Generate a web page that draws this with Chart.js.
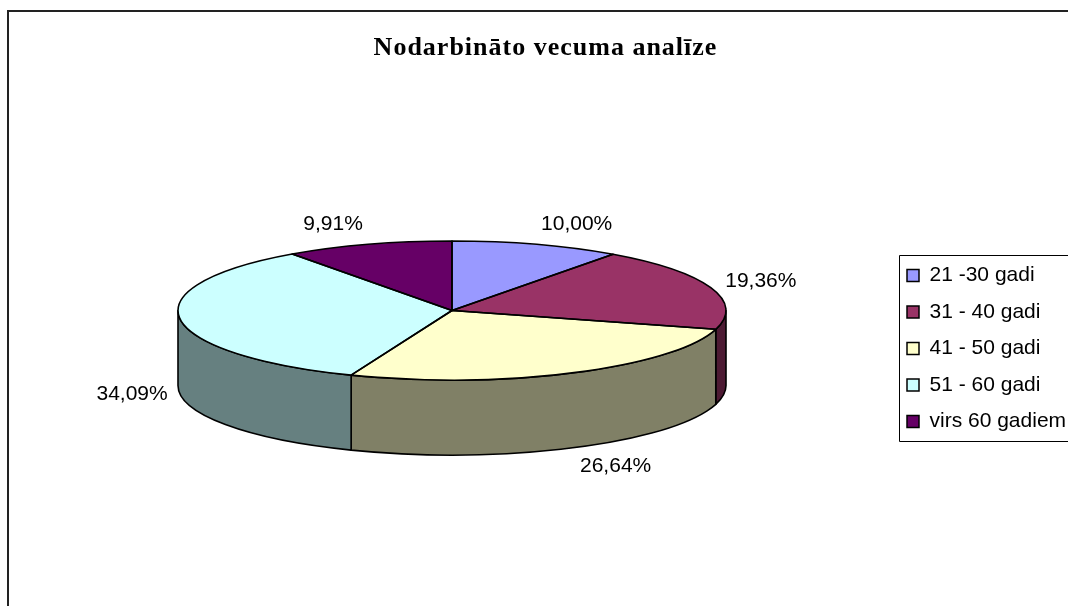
<!DOCTYPE html>
<html>
<head>
<meta charset="utf-8">
<style>html,body{margin:0;padding:0;background:#fff;overflow:hidden}canvas{display:block}</style>
<script src="https://cdn.jsdelivr.net/npm/chart.js@4"></script>
</head>
<body>
<canvas id="c" width="1068" height="606"></canvas>
<script>
const chartTitle = "Nodarbināto vecuma analīze";
const categories = ["21 -30 gadi", "31 - 40 gadi", "41 - 50 gadi", "51 - 60 gadi", "virs 60 gadiem"];
const shares = [10.00, 19.36, 26.64, 34.09, 9.91];
const sliceColors = ["#9999FF", "#993366", "#FFFFCC", "#CCFFFF", "#660066"];

const pieBox = {cx: 452, cy: 310.5, rx: 274, ry: 69.5, depth: 75};
const labelAnchor = [
  {dx: 40, dy: -20, wall: false}, {dx: 50, dy: -6, wall: false},
  {dx: 42, dy: 18, wall: true}, {dx: -48, dy: 0, wall: true}, {dx: -35, dy: -20, wall: false}
];
const frame = {x: 8, y: 11};
const legendFrame = {x: 899.5, y: 255.5, bottom: 441.5};
const legendSpot = {left: 907, firstRow: 277.5};
const legendFontSize = 21, legendRowStep = 36.5;

function halfTone(hex) {
  const n = parseInt(hex.slice(1), 16);
  const f = v => Math.round(v / 2);
  return `rgb(${f(n >> 16 & 255)},${f(n >> 8 & 255)},${f(n & 255)})`;
}

const pie3d = {
  id: "pie3d",
  beforeDraw(chart) {
    const ctx = chart.ctx;
    ctx.save();
    ctx.strokeStyle = "#222";
    ctx.lineWidth = 2;
    ctx.beginPath();
    ctx.moveTo(frame.x, chart.height);
    ctx.lineTo(frame.x, frame.y);
    ctx.lineTo(chart.width, frame.y);
    ctx.stroke();
    ctx.lineWidth = 1;
    ctx.strokeStyle = "#000";
    ctx.beginPath();
    ctx.moveTo(chart.width, legendFrame.y);
    ctx.lineTo(legendFrame.x, legendFrame.y);
    ctx.lineTo(legendFrame.x, legendFrame.bottom);
    ctx.lineTo(chart.width, legendFrame.bottom);
    ctx.stroke();
    ctx.restore();
  },
  afterLayout(chart) {
    const lg = chart.legend, pad = lg.options.labels.padding;
    const w = lg.width, h = lg.height;
    lg.left = legendSpot.left - pad;
    lg.right = lg.left + w;
    lg.top = legendSpot.firstRow - pad - legendFontSize * 0.6;
    lg.bottom = lg.top + h;
    const tb = chart.titleBlock;
    if (!tb._spaced) {
      const drawTitle = tb.draw;
      tb.draw = function () {
        const ctx = this.ctx;
        ctx.letterSpacing = "1px";
        drawTitle.call(this);
        ctx.letterSpacing = "0px";
      };
      tb._spaced = true;
    }
  },
  beforeDatasetsDraw(chart) {
    const ctx = chart.ctx, {cx, cy, rx, ry, depth} = pieBox;
    const arcs = chart.getDatasetMeta(0).data;
    ctx.save();
    ctx.lineWidth = 1.6;
    ctx.strokeStyle = "#000";
    ctx.lineJoin = "round";
    arcs.forEach(arc => {
      const lo = Math.max(arc.startAngle, 0), hi = Math.min(arc.endAngle, Math.PI);
      if (hi <= lo) return;
      ctx.beginPath();
      ctx.ellipse(cx, cy, rx, ry, 0, lo, hi);
      ctx.ellipse(cx, cy + depth, rx, ry, 0, hi, lo, true);
      ctx.closePath();
      ctx.fillStyle = halfTone(arc.options.backgroundColor);
      ctx.fill();
      ctx.stroke();
    });
    ctx.restore();
    const a = arcs[0];
    ctx.save();
    ctx.translate(cx, cy);
    ctx.scale(rx / a.outerRadius, ry / a.outerRadius);
    ctx.translate(-a.x, -a.y);
  },
  afterDatasetsDraw(chart) {
    const ctx = chart.ctx, {cx, cy, rx, ry, depth} = pieBox;
    ctx.restore();
    const arcs = chart.getDatasetMeta(0).data;
    ctx.save();
    ctx.lineWidth = 1.6;
    ctx.strokeStyle = "#000";
    ctx.lineJoin = "round";
    arcs.forEach(arc => {
      ctx.beginPath();
      ctx.moveTo(cx, cy);
      ctx.ellipse(cx, cy, rx, ry, 0, arc.startAngle, arc.endAngle);
      ctx.closePath();
      ctx.stroke();
    });
    ctx.fillStyle = "#000";
    ctx.font = "21px 'Liberation Sans'";
    ctx.textAlign = "center";
    ctx.textBaseline = "middle";
    arcs.forEach((arc, i) => {
      const mid = (arc.startAngle + arc.endAngle) / 2, off = labelAnchor[i];
      const x = cx + rx * Math.cos(mid) + off.dx;
      const y = cy + ry * Math.sin(mid) + (off.wall ? depth : 0) + off.dy;
      ctx.fillText(shares[i].toFixed(2).replace(".", ",") + "%", x, y);
    });
    ctx.restore();
  }
};

new Chart(document.getElementById("c"), {
  type: "pie",
  plugins: [pie3d],
  data: {
    labels: categories,
    datasets: [{data: shares, backgroundColor: sliceColors, borderWidth: 0}]
  },
  options: {
    responsive: false,
    animation: false,
    layout: {padding: {left: 23}},
    plugins: {
      tooltip: {enabled: false},
      title: {
        display: true,
        text: chartTitle,
        color: "#000",
        font: {family: "'Liberation Serif'", size: 26, weight: "bold"},
        padding: {top: 33, bottom: 6}
      },
      legend: {
        position: "right",
        align: "start",
        labels: {
          font: {family: "'Liberation Sans'", size: legendFontSize},
          color: "#000",
          boxWidth: 12,
          boxHeight: 12,
          padding: legendRowStep - legendFontSize,
          generateLabels(chart) {
            return Chart.overrides.pie.plugins.legend.labels.generateLabels(chart)
              .map(l => Object.assign(l, {lineWidth: 1.5, strokeStyle: "#000"}));
          }
        }
      }
    }
  }
});
</script>
</body>
</html>
